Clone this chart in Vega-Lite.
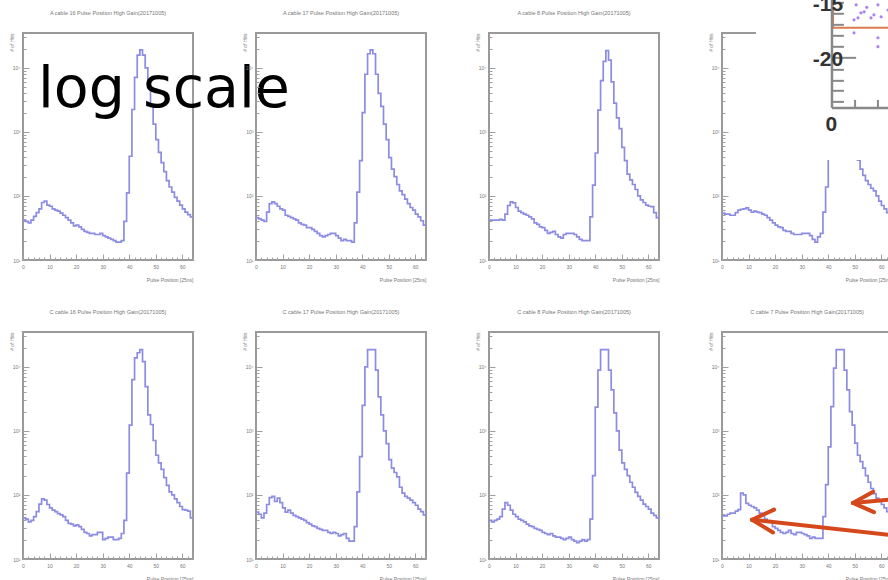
{
"$schema":"https://vega.github.io/schema/vega-lite/v6.json",
"autosize":"none",
"padding":{"left":23,"top":33,"right":865,"bottom":547},
"background":"white",
"datasets":{
"hist":[
{"b":0,"c1":42,"c2":46,"c3":42,"c4":54,"c5":44,"c6":54,"c7":40,"c8":47},
{"b":1,"c1":40,"c2":44,"c3":42,"c4":52,"c5":42,"c6":50,"c7":38,"c8":47},
{"b":2,"c1":38,"c2":42,"c3":42,"c4":52,"c5":38,"c6":44,"c7":40,"c8":50},
{"b":3,"c1":42,"c2":40,"c3":42,"c4":50,"c5":40,"c6":52,"c7":42,"c8":52},
{"b":4,"c1":48,"c2":56,"c3":43,"c4":50,"c5":46,"c6":71,"c7":46,"c8":52},
{"b":5,"c1":55,"c2":76,"c3":42,"c4":55,"c5":55,"c6":91,"c7":60,"c8":56},
{"b":6,"c1":63,"c2":81,"c3":52,"c4":60,"c5":72,"c6":95,"c7":76,"c8":59},
{"b":7,"c1":79,"c2":76,"c3":71,"c4":62,"c5":87,"c6":79,"c7":69,"c8":107},
{"b":8,"c1":83,"c2":69,"c3":81,"c4":63,"c5":83,"c6":89,"c7":58,"c8":100},
{"b":9,"c1":72,"c2":63,"c3":78,"c4":65,"c5":71,"c6":76,"c7":50,"c8":74},
{"b":10,"c1":69,"c2":60,"c3":66,"c4":60,"c5":63,"c6":63,"c7":46,"c8":69},
{"b":11,"c1":63,"c2":50,"c3":58,"c4":56,"c5":58,"c6":54,"c7":42,"c8":66},
{"b":12,"c1":60,"c2":48,"c3":55,"c4":58,"c5":55,"c6":58,"c7":40,"c8":63},
{"b":13,"c1":58,"c2":46,"c3":52,"c4":56,"c5":51,"c6":52,"c7":38,"c8":58},
{"b":14,"c1":54,"c2":44,"c3":50,"c4":55,"c5":49,"c6":48,"c7":35,"c8":52},
{"b":15,"c1":50,"c2":42,"c3":47,"c4":52,"c5":46,"c6":46,"c7":33,"c8":48},
{"b":16,"c1":46,"c2":38,"c3":44,"c4":50,"c5":40,"c6":44,"c7":32,"c8":42},
{"b":17,"c1":42,"c2":36,"c3":38,"c4":46,"c5":36,"c6":42,"c7":30,"c8":38},
{"b":18,"c1":38,"c2":35,"c3":36,"c4":42,"c5":35,"c6":40,"c7":29,"c8":38},
{"b":19,"c1":34,"c2":32,"c3":33,"c4":38,"c5":33,"c6":37,"c7":28,"c8":32},
{"b":20,"c1":35,"c2":32,"c3":32,"c4":35,"c5":34,"c6":35,"c7":26,"c8":30},
{"b":21,"c1":33,"c2":30,"c3":29,"c4":33,"c5":32,"c6":33,"c7":25,"c8":28},
{"b":22,"c1":30,"c2":28,"c3":26,"c4":32,"c5":29,"c6":32,"c7":24,"c8":26},
{"b":23,"c1":28,"c2":26,"c3":27,"c4":29,"c5":26,"c6":30,"c7":25,"c8":25},
{"b":24,"c1":27,"c2":24,"c3":28,"c4":28,"c5":25,"c6":29,"c7":23,"c8":26},
{"b":25,"c1":26,"c2":23,"c3":25,"c4":28,"c5":23,"c6":28,"c7":22,"c8":28},
{"b":26,"c1":26,"c2":24,"c3":23,"c4":26,"c5":24,"c6":28,"c7":22,"c8":25},
{"b":27,"c1":25,"c2":25,"c3":22,"c4":25,"c5":24,"c6":26,"c7":21,"c8":24},
{"b":28,"c1":25,"c2":26,"c3":25,"c4":25,"c5":26,"c6":25,"c7":20,"c8":26},
{"b":29,"c1":26,"c2":26,"c3":26,"c4":25,"c5":26,"c6":26,"c7":21,"c8":26},
{"b":30,"c1":24,"c2":24,"c3":26,"c4":26,"c5":20,"c6":25,"c7":22,"c8":25},
{"b":31,"c1":23,"c2":22,"c3":26,"c4":26,"c5":21,"c6":23,"c7":20,"c8":24},
{"b":32,"c1":22,"c2":20,"c3":25,"c4":26,"c5":22,"c6":24,"c7":19,"c8":23},
{"b":33,"c1":21,"c2":21,"c3":23,"c4":24,"c5":22,"c6":25,"c7":18,"c8":21},
{"b":34,"c1":20,"c2":20,"c3":21,"c4":21,"c5":20,"c6":21,"c7":19,"c8":22},
{"b":35,"c1":19,"c2":20,"c3":20,"c4":19,"c5":20,"c6":19,"c7":20,"c8":21},
{"b":36,"c1":19,"c2":19,"c3":20,"c4":23,"c5":21,"c6":19,"c7":19,"c8":21},
{"b":37,"c1":20,"c2":38,"c3":20,"c4":26,"c5":25,"c6":32,"c7":20,"c8":21},
{"b":38,"c1":40,"c2":115,"c3":47,"c4":56,"c5":40,"c6":112,"c7":42,"c8":46},
{"b":39,"c1":112,"c2":355,"c3":148,"c4":138,"c5":219,"c6":398,"c7":200,"c8":145},
{"b":40,"c1":417,"c2":1995,"c3":468,"c4":398,"c5":1230,"c6":2512,"c7":2344,"c8":562},
{"b":41,"c1":2239,"c2":7943,"c3":2188,"c4":1995,"c5":6310,"c6":10000,"c7":8913,"c8":2399},
{"b":42,"c1":7079,"c2":16596,"c3":6310,"c4":7079,"c5":13804,"c6":18621,"c7":18621,"c8":9550},
{"b":43,"c1":15849,"c2":19055,"c3":12589,"c4":15849,"c5":16596,"c6":18621,"c7":18621,"c8":18621},
{"b":44,"c1":19055,"c2":16596,"c3":18621,"c4":19055,"c5":18621,"c6":18621,"c7":18621,"c8":18621},
{"b":45,"c1":15849,"c2":7943,"c3":13183,"c4":14125,"c5":12023,"c6":8913,"c7":8913,"c8":18621},
{"b":46,"c1":10000,"c2":3981,"c3":6026,"c4":7943,"c5":4898,"c6":3388,"c7":4365,"c8":8913},
{"b":47,"c1":5012,"c2":2512,"c3":2818,"c4":3981,"c5":1778,"c6":1778,"c7":1905,"c8":4365},
{"b":48,"c1":2512,"c2":1318,"c3":1660,"c4":1995,"c5":1259,"c6":1000,"c7":1000,"c8":1995},
{"b":49,"c1":1318,"c2":759,"c3":1122,"c4":1000,"c5":708,"c6":631,"c7":501,"c8":1230},
{"b":50,"c1":759,"c2":398,"c3":575,"c4":562,"c5":417,"c6":355,"c7":316,"c8":646},
{"b":51,"c1":479,"c2":263,"c3":355,"c4":363,"c5":316,"c6":263,"c7":251,"c8":417},
{"b":52,"c1":331,"c2":200,"c3":219,"c4":263,"c5":251,"c6":224,"c7":200,"c8":331},
{"b":53,"c1":240,"c2":151,"c3":178,"c4":209,"c5":186,"c6":191,"c7":158,"c8":263},
{"b":54,"c1":174,"c2":120,"c3":151,"c4":174,"c5":141,"c6":132,"c7":132,"c8":200},
{"b":55,"c1":138,"c2":105,"c3":126,"c4":151,"c5":112,"c6":107,"c7":110,"c8":158},
{"b":56,"c1":115,"c2":89,"c3":100,"c4":132,"c5":100,"c6":95,"c7":95,"c8":126},
{"b":57,"c1":95,"c2":76,"c3":87,"c4":120,"c5":87,"c6":89,"c7":83,"c8":105},
{"b":58,"c1":83,"c2":66,"c3":79,"c4":100,"c5":76,"c6":83,"c7":72,"c8":89},
{"b":59,"c1":72,"c2":60,"c3":72,"c4":83,"c5":66,"c6":76,"c7":66,"c8":79},
{"b":60,"c1":63,"c2":52,"c3":69,"c4":71,"c5":59,"c6":69,"c7":60,"c8":71},
{"b":61,"c1":56,"c2":47,"c3":68,"c4":63,"c5":58,"c6":60,"c7":52,"c8":63},
{"b":62,"c1":51,"c2":41,"c3":55,"c4":55,"c5":56,"c6":55,"c7":48,"c8":55},
{"b":63,"c1":47,"c2":35,"c3":46,"c4":50,"c5":44,"c6":49,"c7":44,"c8":50},
{"b":64,"c1":47,"c2":35,"c3":46,"c4":50,"c5":44,"c6":49,"c7":44,"c8":50}
],
"label":[{"b":5.65,"c1":2455,"t":"log scale"}],
"inset_box":[{"b":12.8,"b2":70,"c4":300000,"e2":365}],
"inset_frame":[{"b":41.8,"b2":70,"c4":300000,"e2":42170}],
"inset_points":[
{"b":50.5,"c4":96400},{"b":52.3,"c4":72300},{"b":53.5,"c4":75000},{"b":56.1,"c4":60400},
{"b":57.2,"c4":67300},{"b":58.7,"c4":96400},{"b":59.9,"c4":62600},{"b":49.7,"c4":56200},
{"b":51.2,"c4":60400},{"b":49.7,"c4":35200},{"b":58.7,"c4":29500},{"b":58.7,"c4":21400},
{"b":54.5,"c4":88000},{"b":62.5,"c4":80000}
],
"inset_axis":[
{"kind":"axis","b":41.4,"c4":300000,"b2":41.4,"e2":2371},
{"kind":"axis","b":41.4,"c4":2371,"b2":70,"e2":2371},
{"kind":"tick","b":41.4,"c4":103700,"b2":45.9,"e2":103700},
{"kind":"tick","b":41.4,"c4":69800,"b2":45.9,"e2":69800},
{"kind":"tick","b":41.4,"c4":46950,"b2":45.9,"e2":46950},
{"kind":"tick","b":41.4,"c4":31620,"b2":45.9,"e2":31620},
{"kind":"tick","b":41.4,"c4":21300,"b2":45.9,"e2":21300},
{"kind":"tick","b":41.4,"c4":14330,"b2":50.5,"e2":14330},
{"kind":"tick","b":41.4,"c4":9310,"b2":45.9,"e2":9310},
{"kind":"tick","b":41.4,"c4":6270,"b2":45.9,"e2":6270},
{"kind":"tick","b":41.4,"c4":4380,"b2":45.9,"e2":4380},
{"kind":"tick","b":41.4,"c4":2943,"b2":45.9,"e2":2943},
{"kind":"tick","b":50.1,"c4":2371,"b2":50.1,"e2":3162},
{"kind":"tick","b":58.7,"c4":2371,"b2":58.7,"e2":3162}
],
"inset_text":[
{"b":39.9,"c4":96000,"t":"-15","a":"right"},
{"b":39.9,"c4":13335,"t":"-20","a":"right"},
{"b":41.2,"c4":1290,"t":"0","a":"center"}
],
"arrows":[
{"b":49.3,"c8":75,"b2":66,"e2":87},
{"b":49.3,"c8":75,"b2":56.9,"e2":112},
{"b":49.3,"c8":75,"b2":57.2,"e2":54},
{"b":11.3,"c8":41,"b2":66,"e2":23},
{"b":11.3,"c8":41,"b2":19.6,"e2":59},
{"b":11.3,"c8":41,"b2":19.2,"e2":26}
]
},
"data":{"name":"hist"},
"columns":4,
"bounds":"flush",
"spacing":{"row":72,"column":63},
"concat":[
{"width":170,"height":227,"title":{"text":"A cable 16 Pulse Position High Gain(20171005)"},
 "resolve":{"axis":{"x":"independent","y":"independent"}},
 "layer":[
 {"mark":{"type":"line","interpolate":"step-after","color":"#8c8ce2","strokeWidth":1.7},
  "encoding":{
   "x":{"field":"b","type":"quantitative","scale":{"domain":[0,64],"nice":false,"zero":false},"axis":{"values":[0,2,4,6,8,10,12,14,16,18,20,22,24,26,28,30,32,34,36,38,40,42,44,46,48,50,52,54,56,58,60,62,64],"labelExpr":"datum.value % 10 == 0 ? '' + datum.value : ''","tickSize":{"condition":{"test":"datum.value % 10 == 0","value":-6},"value":-3},"labelPadding":10,"title":"Pulse Position [25ns]","titleX":170,"titleY":19,"titleAlign":"right","titleBaseline":"middle"}},
   "y":{"field":"c1","type":"quantitative","scale":{"type":"log","domain":[10,35000],"nice":false},"axis":{"values":[10,20,30,40,50,60,70,80,90,100,200,300,400,500,600,700,800,900,1000,2000,3000,4000,5000,6000,7000,8000,9000,10000,20000,30000],"labelExpr":"datum.value == 10 ? '10¹' : datum.value == 100 ? '10²' : datum.value == 1000 ? '10³' : datum.value == 10000 ? '10⁴' : ''","tickSize":{"condition":{"test":"datum.value == 10 || datum.value == 100 || datum.value == 1000 || datum.value == 10000","value":-6},"value":-3},"labelPadding":9,"title":"# of Hits","titleX":-12,"titleY":0,"titleAlign":"right","titleBaseline":"middle"}}}},
 {"data":{"name":"label"},"mark":{"type":"text","font":"DejaVu Sans","fontSize":57,"color":"black","align":"left","baseline":"alphabetic"},
  "encoding":{"x":{"field":"b","type":"quantitative","axis":null},"y":{"field":"c1","type":"quantitative","axis":null},"text":{"field":"t"}}}
 ]},
{"width":170,"height":227,"title":{"text":"A cable 17 Pulse Position High Gain(20171005)"},
 "mark":{"type":"line","interpolate":"step-after","color":"#8c8ce2","strokeWidth":1.7},
 "encoding":{
   "x":{"field":"b","type":"quantitative","scale":{"domain":[0,64],"nice":false,"zero":false},"axis":{"values":[0,2,4,6,8,10,12,14,16,18,20,22,24,26,28,30,32,34,36,38,40,42,44,46,48,50,52,54,56,58,60,62,64],"labelExpr":"datum.value % 10 == 0 ? '' + datum.value : ''","tickSize":{"condition":{"test":"datum.value % 10 == 0","value":-6},"value":-3},"labelPadding":10,"title":"Pulse Position [25ns]","titleX":170,"titleY":19,"titleAlign":"right","titleBaseline":"middle"}},
   "y":{"field":"c2","type":"quantitative","scale":{"type":"log","domain":[10,35000],"nice":false},"axis":{"values":[10,20,30,40,50,60,70,80,90,100,200,300,400,500,600,700,800,900,1000,2000,3000,4000,5000,6000,7000,8000,9000,10000,20000,30000],"labelExpr":"datum.value == 10 ? '10¹' : datum.value == 100 ? '10²' : datum.value == 1000 ? '10³' : datum.value == 10000 ? '10⁴' : ''","tickSize":{"condition":{"test":"datum.value == 10 || datum.value == 100 || datum.value == 1000 || datum.value == 10000","value":-6},"value":-3},"labelPadding":9,"title":"# of Hits","titleX":-12,"titleY":0,"titleAlign":"right","titleBaseline":"middle"}}}},
{"width":170,"height":227,"title":{"text":"A cable 8 Pulse Position High Gain(20171005)"},
 "mark":{"type":"line","interpolate":"step-after","color":"#8c8ce2","strokeWidth":1.7},
 "encoding":{
   "x":{"field":"b","type":"quantitative","scale":{"domain":[0,64],"nice":false,"zero":false},"axis":{"values":[0,2,4,6,8,10,12,14,16,18,20,22,24,26,28,30,32,34,36,38,40,42,44,46,48,50,52,54,56,58,60,62,64],"labelExpr":"datum.value % 10 == 0 ? '' + datum.value : ''","tickSize":{"condition":{"test":"datum.value % 10 == 0","value":-6},"value":-3},"labelPadding":10,"title":"Pulse Position [25ns]","titleX":170,"titleY":19,"titleAlign":"right","titleBaseline":"middle"}},
   "y":{"field":"c3","type":"quantitative","scale":{"type":"log","domain":[10,35000],"nice":false},"axis":{"values":[10,20,30,40,50,60,70,80,90,100,200,300,400,500,600,700,800,900,1000,2000,3000,4000,5000,6000,7000,8000,9000,10000,20000,30000],"labelExpr":"datum.value == 10 ? '10¹' : datum.value == 100 ? '10²' : datum.value == 1000 ? '10³' : datum.value == 10000 ? '10⁴' : ''","tickSize":{"condition":{"test":"datum.value == 10 || datum.value == 100 || datum.value == 1000 || datum.value == 10000","value":-6},"value":-3},"labelPadding":9,"title":"# of Hits","titleX":-12,"titleY":0,"titleAlign":"right","titleBaseline":"middle"}}}},
{"width":170,"height":227,"title":{"text":"A cable 7","anchor":"start","dx":12},
 "resolve":{"axis":{"x":"independent","y":"independent"}},
 "layer":[
 {"mark":{"type":"line","interpolate":"step-after","color":"#8c8ce2","strokeWidth":1.7},
  "encoding":{
   "x":{"field":"b","type":"quantitative","scale":{"domain":[0,64],"nice":false,"zero":false},"axis":{"values":[0,2,4,6,8,10,12,14,16,18,20,22,24,26,28,30,32,34,36,38,40,42,44,46,48,50,52,54,56,58,60,62,64],"labelExpr":"datum.value % 10 == 0 ? '' + datum.value : ''","tickSize":{"condition":{"test":"datum.value % 10 == 0","value":-6},"value":-3},"labelPadding":10,"title":"Pulse Position [25ns]","titleX":170,"titleY":19,"titleAlign":"right","titleBaseline":"middle"}},
   "y":{"field":"c4","type":"quantitative","scale":{"type":"log","domain":[10,35000],"nice":false},"axis":{"values":[10,20,30,40,50,60,70,80,90,100,200,300,400,500,600,700,800,900,1000,2000,3000,4000,5000,6000,7000,8000,9000,10000,20000,30000],"labelExpr":"datum.value == 10 ? '10¹' : datum.value == 100 ? '10²' : datum.value == 1000 ? '10³' : datum.value == 10000 ? '10⁴' : ''","tickSize":{"condition":{"test":"datum.value == 10 || datum.value == 100 || datum.value == 1000 || datum.value == 10000","value":-6},"value":-3},"labelPadding":9,"title":"# of Hits","titleX":-12,"titleY":0,"titleAlign":"right","titleBaseline":"middle"}}}},
 {"data":{"name":"inset_box"},"mark":{"type":"rect","color":"white","opacity":1},
  "encoding":{"x":{"field":"b","type":"quantitative","axis":null},"x2":{"field":"b2"},"y":{"field":"c4","type":"quantitative","axis":null},"y2":{"field":"e2"}}},
 {"data":{"name":"inset_frame"},"mark":{"type":"rect","filled":false,"stroke":"#dd7b50","strokeWidth":2},
  "encoding":{"x":{"field":"b","type":"quantitative","axis":null},"x2":{"field":"b2"},"y":{"field":"c4","type":"quantitative","axis":null},"y2":{"field":"e2"}}},
 {"data":{"name":"inset_points"},"mark":{"type":"point","filled":true,"size":10,"color":"#9c6cf0","opacity":0.85},
  "encoding":{"x":{"field":"b","type":"quantitative","axis":null},"y":{"field":"c4","type":"quantitative","axis":null}}},
 {"data":{"name":"inset_axis"},"transform":[{"filter":"datum.kind == 'axis'"}],"mark":{"type":"rule","color":"#888","strokeWidth":2.5},
  "encoding":{"x":{"field":"b","type":"quantitative","axis":null},"x2":{"field":"b2"},"y":{"field":"c4","type":"quantitative","axis":null},"y2":{"field":"e2"}}},
 {"data":{"name":"inset_axis"},"transform":[{"filter":"datum.kind == 'tick'"}],"mark":{"type":"rule","color":"#888","strokeWidth":2},
  "encoding":{"x":{"field":"b","type":"quantitative","axis":null},"x2":{"field":"b2"},"y":{"field":"c4","type":"quantitative","axis":null},"y2":{"field":"e2"}}},
 {"data":{"name":"inset_text"},"mark":{"type":"text","font":"Liberation Sans","fontWeight":"bold","fontSize":21,"color":"#333","baseline":"middle"},
  "encoding":{"x":{"field":"b","type":"quantitative","axis":null},"y":{"field":"c4","type":"quantitative","axis":null},"text":{"field":"t"},"align":{"field":"a","type":"nominal","scale":null}}}
 ]},
{"width":170,"height":227,"title":{"text":"C cable 16 Pulse Position High Gain(20171005)"},
 "mark":{"type":"line","interpolate":"step-after","color":"#8c8ce2","strokeWidth":1.7},
 "encoding":{
   "x":{"field":"b","type":"quantitative","scale":{"domain":[0,64],"nice":false,"zero":false},"axis":{"values":[0,2,4,6,8,10,12,14,16,18,20,22,24,26,28,30,32,34,36,38,40,42,44,46,48,50,52,54,56,58,60,62,64],"labelExpr":"datum.value % 10 == 0 ? '' + datum.value : ''","tickSize":{"condition":{"test":"datum.value % 10 == 0","value":-6},"value":-3},"labelPadding":10,"title":"Pulse Position [25ns]","titleX":170,"titleY":19,"titleAlign":"right","titleBaseline":"middle"}},
   "y":{"field":"c5","type":"quantitative","scale":{"type":"log","domain":[10,35000],"nice":false},"axis":{"values":[10,20,30,40,50,60,70,80,90,100,200,300,400,500,600,700,800,900,1000,2000,3000,4000,5000,6000,7000,8000,9000,10000,20000,30000],"labelExpr":"datum.value == 10 ? '10¹' : datum.value == 100 ? '10²' : datum.value == 1000 ? '10³' : datum.value == 10000 ? '10⁴' : ''","tickSize":{"condition":{"test":"datum.value == 10 || datum.value == 100 || datum.value == 1000 || datum.value == 10000","value":-6},"value":-3},"labelPadding":9,"title":"# of Hits","titleX":-12,"titleY":0,"titleAlign":"right","titleBaseline":"middle"}}}},
{"width":170,"height":227,"title":{"text":"C cable 17 Pulse Position High Gain(20171005)"},
 "mark":{"type":"line","interpolate":"step-after","color":"#8c8ce2","strokeWidth":1.7},
 "encoding":{
   "x":{"field":"b","type":"quantitative","scale":{"domain":[0,64],"nice":false,"zero":false},"axis":{"values":[0,2,4,6,8,10,12,14,16,18,20,22,24,26,28,30,32,34,36,38,40,42,44,46,48,50,52,54,56,58,60,62,64],"labelExpr":"datum.value % 10 == 0 ? '' + datum.value : ''","tickSize":{"condition":{"test":"datum.value % 10 == 0","value":-6},"value":-3},"labelPadding":10,"title":"Pulse Position [25ns]","titleX":170,"titleY":19,"titleAlign":"right","titleBaseline":"middle"}},
   "y":{"field":"c6","type":"quantitative","scale":{"type":"log","domain":[10,35000],"nice":false},"axis":{"values":[10,20,30,40,50,60,70,80,90,100,200,300,400,500,600,700,800,900,1000,2000,3000,4000,5000,6000,7000,8000,9000,10000,20000,30000],"labelExpr":"datum.value == 10 ? '10¹' : datum.value == 100 ? '10²' : datum.value == 1000 ? '10³' : datum.value == 10000 ? '10⁴' : ''","tickSize":{"condition":{"test":"datum.value == 10 || datum.value == 100 || datum.value == 1000 || datum.value == 10000","value":-6},"value":-3},"labelPadding":9,"title":"# of Hits","titleX":-12,"titleY":0,"titleAlign":"right","titleBaseline":"middle"}}}},
{"width":170,"height":227,"title":{"text":"C cable 8 Pulse Position High Gain(20171005)"},
 "mark":{"type":"line","interpolate":"step-after","color":"#8c8ce2","strokeWidth":1.7},
 "encoding":{
   "x":{"field":"b","type":"quantitative","scale":{"domain":[0,64],"nice":false,"zero":false},"axis":{"values":[0,2,4,6,8,10,12,14,16,18,20,22,24,26,28,30,32,34,36,38,40,42,44,46,48,50,52,54,56,58,60,62,64],"labelExpr":"datum.value % 10 == 0 ? '' + datum.value : ''","tickSize":{"condition":{"test":"datum.value % 10 == 0","value":-6},"value":-3},"labelPadding":10,"title":"Pulse Position [25ns]","titleX":170,"titleY":19,"titleAlign":"right","titleBaseline":"middle"}},
   "y":{"field":"c7","type":"quantitative","scale":{"type":"log","domain":[10,35000],"nice":false},"axis":{"values":[10,20,30,40,50,60,70,80,90,100,200,300,400,500,600,700,800,900,1000,2000,3000,4000,5000,6000,7000,8000,9000,10000,20000,30000],"labelExpr":"datum.value == 10 ? '10¹' : datum.value == 100 ? '10²' : datum.value == 1000 ? '10³' : datum.value == 10000 ? '10⁴' : ''","tickSize":{"condition":{"test":"datum.value == 10 || datum.value == 100 || datum.value == 1000 || datum.value == 10000","value":-6},"value":-3},"labelPadding":9,"title":"# of Hits","titleX":-12,"titleY":0,"titleAlign":"right","titleBaseline":"middle"}}}},
{"width":170,"height":227,"title":{"text":"C cable 7 Pulse Position High Gain(20171005)"},
 "resolve":{"axis":{"x":"independent","y":"independent"}},
 "layer":[
 {"mark":{"type":"line","interpolate":"step-after","color":"#8c8ce2","strokeWidth":1.7},
  "encoding":{
   "x":{"field":"b","type":"quantitative","scale":{"domain":[0,64],"nice":false,"zero":false},"axis":{"values":[0,2,4,6,8,10,12,14,16,18,20,22,24,26,28,30,32,34,36,38,40,42,44,46,48,50,52,54,56,58,60,62,64],"labelExpr":"datum.value % 10 == 0 ? '' + datum.value : ''","tickSize":{"condition":{"test":"datum.value % 10 == 0","value":-6},"value":-3},"labelPadding":10,"title":"Pulse Position [25ns]","titleX":170,"titleY":19,"titleAlign":"right","titleBaseline":"middle"}},
   "y":{"field":"c8","type":"quantitative","scale":{"type":"log","domain":[10,35000],"nice":false},"axis":{"values":[10,20,30,40,50,60,70,80,90,100,200,300,400,500,600,700,800,900,1000,2000,3000,4000,5000,6000,7000,8000,9000,10000,20000,30000],"labelExpr":"datum.value == 10 ? '10¹' : datum.value == 100 ? '10²' : datum.value == 1000 ? '10³' : datum.value == 10000 ? '10⁴' : ''","tickSize":{"condition":{"test":"datum.value == 10 || datum.value == 100 || datum.value == 1000 || datum.value == 10000","value":-6},"value":-3},"labelPadding":9,"title":"# of Hits","titleX":-12,"titleY":0,"titleAlign":"right","titleBaseline":"middle"}}}},
 {"data":{"name":"arrows"},"mark":{"type":"rule","color":"#d4481c","strokeWidth":4,"strokeCap":"round"},
  "encoding":{"x":{"field":"b","type":"quantitative","axis":null},"x2":{"field":"b2"},"y":{"field":"c8","type":"quantitative","axis":null},"y2":{"field":"e2"}}}
 ]}
],
"config":{
 "view":{"stroke":"#9a9a9a","strokeWidth":2},
 "axis":{"domain":false,"grid":false,"labelFont":"Liberation Sans","labelFontSize":5,"labelColor":"#777","titleFont":"Liberation Sans","titleFontSize":5,"titleFontWeight":"normal","titleColor":"#777","tickColor":"#a0a0a0","tickWidth":1,"labelOverlap":false,"labelFlush":false,"labelBound":false},
 "title":{"font":"Liberation Sans","fontSize":5.5,"fontWeight":"normal","color":"#777","offset":17,"baseline":"bottom","frame":"group"}
}
}
